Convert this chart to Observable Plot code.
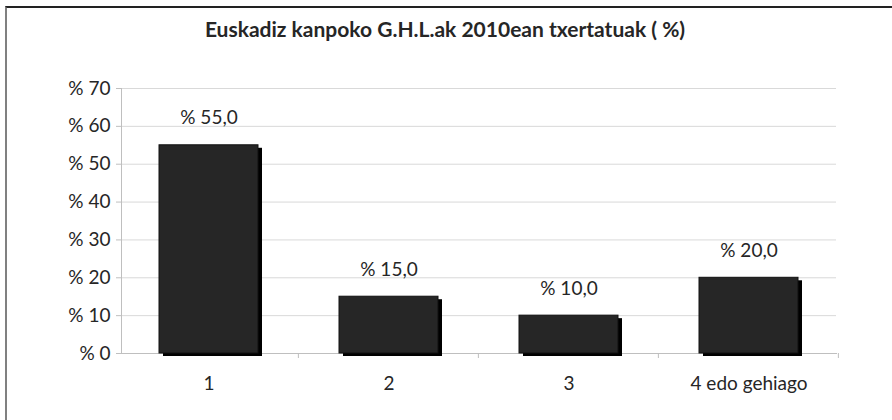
<!DOCTYPE html>
<html><head><meta charset="utf-8">
<script src="https://cdn.jsdelivr.net/npm/d3@7"></script>
<script src="https://cdn.jsdelivr.net/npm/@observablehq/plot@0.6"></script>
<style>
body{margin:0;background:#fff;}
#wrap{position:relative;width:892px;height:420px;overflow:hidden;font-family:Lato,sans-serif;background:#fff;}
#frame{position:absolute;left:5px;top:6px;width:900px;height:500px;border-top:2px solid #222;border-left:2px solid #808080;}
#title{position:absolute;left:0;top:15px;width:890px;line-height:28px;text-align:center;font-size:21px;font-weight:700;color:#262626;}
#chart{position:absolute;left:0;top:56px;}
</style></head>
<body>
<div id="wrap">
  <div id="frame"></div>
  <div id="title">Euskadiz kanpoko G.H.L.ak 2010ean txertatuak ( %)</div>
  <div id="chart"></div>
</div>
<script>
const categories = ["1", "2", "3", "4 edo gehiago"];
const values = [55, 15, 10, 20];
const yTicks = [0, 10, 20, 30, 40, 50, 60, 70];

const data = categories.map((c, i) => ({cat: c, value: values[i]}));
const W = 892, H = 364, ML = 121, MR = 56;
const halfStep = (W - ML - MR) / categories.length / 2;

const chart = Plot.plot({
  width: W, height: H,
  marginTop: 32, marginBottom: 67, marginLeft: ML, marginRight: MR,
  style: {fontFamily: "Lato, sans-serif", fontSize: "19px", color: "#262626", background: "transparent", overflow: "visible"},
  x: {domain: categories, paddingInner: 0.45, paddingOuter: 0.21, align: 0.5, label: null},
  y: {domain: [0, 70], label: null},
  marks: [
    Plot.gridY(yTicks.filter(t => t > 0), {stroke: "#d9d9d9", strokeOpacity: 1}),
    Plot.frame({anchor: "left", stroke: "#bfbfbf"}),
    Plot.frame({anchor: "bottom", stroke: "#bfbfbf"}),
    Plot.axisY(yTicks, {tickSize: 5, tickPadding: 6, tickFormat: d => "% " + d, stroke: "#bfbfbf", fill: "#262626", label: null, fontSize: 19}),
    Plot.axisX({tickSize: 0, tickPadding: 23, fill: "#262626", label: null, fontSize: 19}),
    Plot.axisX({tickSize: 5, text: null, dx: halfStep, stroke: "#bfbfbf", label: null}),
    Plot.barY(data, {x: "cat", y: "value", fill: "#000", dx: 4, dy: 3}),
    Plot.barY(data, {x: "cat", y: "value", fill: "#262626", stroke: "#111", strokeWidth: 1}),
    Plot.text(data, {x: "cat", y: "value", text: d => "% " + d.value.toFixed(1).replace(".", ","), dy: -27, fill: "#262626", fontSize: 19})
  ]
});
document.getElementById("chart").appendChild(chart);
</script>
</body></html>
